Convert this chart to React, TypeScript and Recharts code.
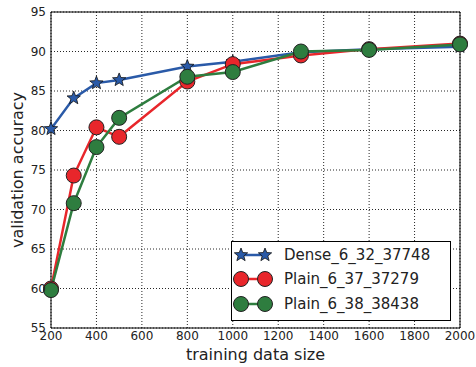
import React from 'react';
import {
  LineChart,
  Line,
  XAxis,
  YAxis,
  CartesianGrid,
  ReferenceArea,
  Legend,
  Label,
} from 'recharts';

const sizes = [200, 300, 400, 500, 800, 1000, 1300, 1600, 2000];
const dense = [80.2, 84.1, 86.0, 86.4, 88.1, 88.7, 89.9, 90.3, 90.6];
const plain37 = [60.0, 74.3, 80.4, 79.2, 86.2, 88.4, 89.5, 90.3, 91.0];
const plain38 = [59.8, 70.8, 77.9, 81.6, 86.8, 87.4, 90.0, 90.2, 90.9];

const xTicks = [200, 400, 600, 800, 1000, 1200, 1400, 1600, 1800, 2000];
const yTicks = [55, 60, 65, 70, 75, 80, 85, 90, 95];

const seriesNames = ['Dense_6_32_37748', 'Plain_6_37_37279', 'Plain_6_38_38438'];

const BLUE = '#2a5aa8';
const RED = '#e8262b';
const GREEN = '#2e7d3f';
const FONT = '"DejaVu Sans", sans-serif';

const data = sizes.map((s, i) => ({
  size: s,
  dense: dense[i],
  plain37: plain37[i],
  plain38: plain38[i],
}));

function starPath(cx: number, cy: number, ro: number, ri: number) {
  let d = '';
  for (let k = 0; k < 10; k++) {
    const r = k % 2 === 0 ? ro : ri;
    const a = -Math.PI / 2 + (k * Math.PI) / 5;
    d += (k === 0 ? 'M' : 'L') + (cx + r * Math.cos(a)).toFixed(2) + ',' + (cy + r * Math.sin(a)).toFixed(2);
  }
  return d + 'Z';
}

const StarDot = (props: any) => {
  const { cx, cy, index } = props;
  if (cx == null || cy == null) return null;
  return <path key={index} d={starPath(cx, cy, 7, 3)} fill={BLUE} stroke="#111" strokeWidth={0.8} />;
};

const circleDot = (color: string) => (props: any) => {
  const { cx, cy, index } = props;
  if (cx == null || cy == null) return null;
  return <circle key={index} cx={cx} cy={cy} r={7.5} fill={color} stroke="#222" strokeWidth={1} />;
};

const LegendBox = () => {
  const rows = [
    { name: seriesNames[0], color: BLUE, star: true },
    { name: seriesNames[1], color: RED, star: false },
    { name: seriesNames[2], color: GREEN, star: false },
  ];
  const rowY = [14, 38, 63];
  return (
    <svg width={220} height={80} style={{ display: 'block' }}>
      <rect x={0.5} y={0.5} width={219} height={79} fill="#fff" stroke="#000" strokeWidth={1} />
      {rows.map((r, i) => (
        <g key={r.name}>
          <line x1={10} x2={34} y1={rowY[i]} y2={rowY[i]} stroke={r.color} strokeWidth={2.5} />
          {r.star ? (
            <>
              <path d={starPath(10, rowY[i], 7, 3)} fill={BLUE} stroke="#111" strokeWidth={0.8} />
              <path d={starPath(34, rowY[i], 7, 3)} fill={BLUE} stroke="#111" strokeWidth={0.8} />
            </>
          ) : (
            <>
              <circle cx={10} cy={rowY[i]} r={7.5} fill={r.color} stroke="#222" />
              <circle cx={34} cy={rowY[i]} r={7.5} fill={r.color} stroke="#222" />
            </>
          )}
          <text x={53} y={rowY[i]} dominantBaseline="central" fontSize={15} fontFamily={FONT} fill="#222">
            {r.name}
          </text>
        </g>
      ))}
    </svg>
  );
};

export default function App() {
  return (
    <div style={{ position: 'absolute', left: 0, top: 0, width: 476, height: 367, background: '#fff' }}>
      <LineChart width={476} height={367} data={data} margin={{ top: 12, right: 16, bottom: 0, left: 11 }}>
        <CartesianGrid stroke="#000" strokeDasharray="1 2" strokeOpacity={0.85} />
        <XAxis
          dataKey="size"
          type="number"
          domain={[200, 2000]}
          ticks={xTicks}
          axisLine={false}
          tickLine={false}
          tickSize={0}
          tickMargin={3}
          height={39}
          tick={{ fontSize: 12, fontFamily: FONT, fill: '#222' }}
        >
          <Label value="training data size" position="insideBottom" offset={7} style={{ fontSize: 16, fontFamily: FONT, fill: '#222' }} />
        </XAxis>
        <YAxis
          type="number"
          domain={[55, 95]}
          ticks={yTicks}
          axisLine={false}
          tickLine={false}
          tickSize={0}
          tickMargin={5}
          width={40}
          tick={{ fontSize: 12, fontFamily: FONT, fill: '#222' }}
        >
          <Label
            content={(p: any) => {
              const vb = p.viewBox || {};
              const cy = vb.y + vb.height / 2;
              return (
                <text
                  x={17}
                  y={cy}
                  transform={`rotate(-90, 17, ${cy})`}
                  textAnchor="middle"
                  dominantBaseline="central"
                  fontSize={16}
                  fontFamily={FONT}
                  fill="#222"
                >
                  validation accuracy
                </text>
              );
            }}
          />
        </YAxis>
        <ReferenceArea x1={200} x2={2000} y1={55} y2={95} fill="none" stroke="#000" strokeWidth={1} />
        <Line dataKey="dense" name={seriesNames[0]} stroke={BLUE} strokeWidth={2.5} dot={StarDot} isAnimationActive={false} />
        <Line dataKey="plain37" name={seriesNames[1]} stroke={RED} strokeWidth={2.5} dot={circleDot(RED)} isAnimationActive={false} />
        <Line dataKey="plain38" name={seriesNames[2]} stroke={GREEN} strokeWidth={2.5} dot={circleDot(GREEN)} isAnimationActive={false} />
        <Legend
          layout="vertical"
          align="center"
          verticalAlign="middle"
          content={() => <LegendBox />}
          wrapperStyle={{ position: 'absolute', left: 231, top: 241, width: 220, height: 80 }}
        />
      </LineChart>
    </div>
  );
}
